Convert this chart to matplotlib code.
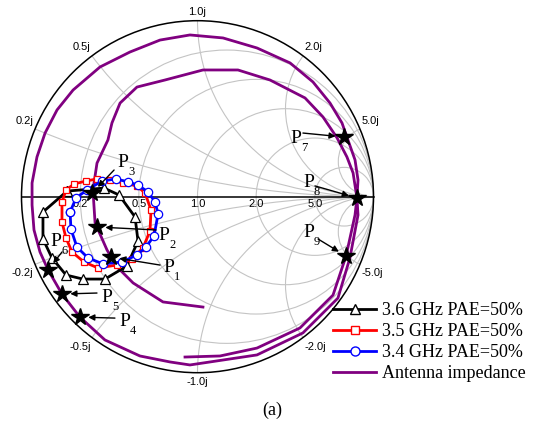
import numpy as np
import matplotlib
matplotlib.use("Agg")
import matplotlib.pyplot as plt
from matplotlib.patches import Circle
from matplotlib.lines import Line2D

# =========================
# DATA (reflection coefficient, real / imag)
# =========================
R_CIRCLES = [0.2, 0.5, 1.0, 2.0, 5.0]
X_ARCS = [0.2, 0.5, 1.0, 2.0, 5.0]
R_LABELS = ["0.2", "0.5", "1.0", "2.0", "5.0"]

# 3.6 GHz PAE=50% contour
g36_re = [-0.741, -0.531, -0.446, -0.355, -0.338, -0.401, -0.526, -0.651,
          -0.747, -0.827, -0.878, -0.878, -0.741]
g36_im = [0.032, 0.049, 0.010, -0.115, -0.252, -0.394, -0.468, -0.468,
          -0.445, -0.348, -0.240, -0.087, 0.032]

# 3.5 GHz PAE=50% contour
g35_re = [-0.770, -0.747, -0.702, -0.634, -0.571, -0.497, -0.423, -0.344,
          -0.298, -0.264, -0.270, -0.310, -0.372, -0.457, -0.565, -0.645,
          -0.713, -0.747, -0.770, -0.770]
g35_im = [-0.030, 0.038, 0.072, 0.089, 0.101, 0.095, 0.078, 0.061,
          0.021, -0.076, -0.195, -0.291, -0.354, -0.388, -0.405, -0.371,
          -0.314, -0.235, -0.144, -0.030]

# 3.4 GHz PAE=50% contour
g34_re = [-0.724, -0.690, -0.628, -0.543, -0.463, -0.395, -0.338, -0.281,
          -0.241, -0.224, -0.247, -0.293, -0.344, -0.429, -0.537, -0.622,
          -0.685, -0.719, -0.724]
g34_im = [-0.087, -0.007, 0.038, 0.089, 0.101, 0.084, 0.066, 0.027,
          -0.030, -0.098, -0.223, -0.286, -0.331, -0.371, -0.382, -0.348,
          -0.286, -0.184, -0.087]

# antenna impedance sweep
ant_re = [-0.071, 0.128, 0.338, 0.582, 0.770, 0.844, 0.895, 0.906,
          0.912, 0.895, 0.855, 0.821, 0.753, 0.656, 0.526, 0.338, 0.145,
          -0.043, -0.213, -0.384, -0.554, -0.707, -0.798, -0.866, -0.912,
          -0.940, -0.940, -0.929, -0.895, -0.849, -0.770, -0.668, -0.526,
          -0.327, -0.156, -0.043, 0.338, 0.599, 0.798, 0.866, 0.912, 0.906,
          0.884, 0.849, 0.793, 0.713, 0.611, 0.412, 0.230, 0.031, -0.185,
          -0.344, -0.440, -0.486, -0.509, -0.571, -0.594, -0.582, -0.514,
          -0.457, -0.366, -0.196, 0.031]
ant_im = [-0.911, -0.905, -0.860, -0.746, -0.559, -0.337, -0.104, -0.007,
          0.095, 0.209, 0.322, 0.419, 0.532, 0.652, 0.760, 0.845, 0.902,
          0.919, 0.890, 0.822, 0.737, 0.606, 0.493, 0.362, 0.226,
          0.078, -0.047, -0.189, -0.314, -0.416, -0.553, -0.684, -0.814,
          -0.905, -0.939, -0.956, -0.899, -0.774, -0.576, -0.348, -0.104, -0.007,
          0.135, 0.226, 0.334, 0.453, 0.561, 0.663, 0.720, 0.720, 0.663,
          0.623, 0.532, 0.419, 0.322, 0.191, 0.038, -0.149, -0.303,
          -0.399, -0.490, -0.598, -0.627]

# marked points P1..P9
p_names = ["1", "2", "3", "4", "5", "6", "7", "8", "9"]
p_re = [-0.491, -0.571, -0.599, -0.668, -0.770, -0.849, 0.832, 0.906, 0.844]
p_im = [-0.343, -0.172, 0.021, -0.684, -0.553, -0.416, 0.339, -0.007, -0.337]
# label / arrow-tail offsets in pixels from each point
p_lab_off = [(52, -15), (61, -13), (25, 26), (39, -9), (39, -8), (2, 24),
             (-54, -6), (-54, 11), (-43, 19)]
p_tail_off = [(49, -8), (59, -3), (22, 23), (35, -1), (35, 1), (14, 18),
              (-41, 4), (-42, 12), (-28, 17)]

# =========================
# FIGURE
# =========================
W, H = 537, 428
CX, CY, RAD = 197.5, 196.7, 176.0
SANS = "Liberation Sans"
SERIF = "Liberation Serif"

fig = plt.figure(figsize=(W / 100, H / 100), dpi=100)
ax = fig.add_axes([0, 0, 1, 1])
ax.set_xlim(-CX / RAD, (W - CX) / RAD)
ax.set_ylim(-(H - CY) / RAD, CY / RAD)
ax.axis("off")

grid_c = "#c4c4c4"
clip = Circle((0, 0), 1, transform=ax.transData)

for r in R_CIRCLES:
    ax.add_patch(Circle((r / (1 + r), 0), 1 / (1 + r), fill=False,
                        ec=grid_c, lw=0.8, zorder=1))
for x in X_ARCS:
    for s in (1, -1):
        c = Circle((1, s / x), 1 / x, fill=False, ec=grid_c, lw=0.8, zorder=1)
        ax.add_patch(c)
        c.set_clip_path(clip)

ax.add_patch(Circle((0, 0), 1, fill=False, ec="black", lw=1.1, zorder=2))
ax.plot([-1, 1], [0, 0], color="black", lw=1.1, zorder=2)

# resistance labels
for r, lab in zip(R_CIRCLES, R_LABELS):
    gx = (r - 1) / (r + 1)
    ax.text(gx, -0.012, lab, ha="center", va="top", fontsize=8,
            family=SANS, zorder=3)

# reactance labels
ax.text(0, 1.02, "1.0j", ha="center", va="bottom", fontsize=8, family=SANS)
ax.text(0, -1.025, "-1.0j", ha="center", va="top", fontsize=8, family=SANS)
for x in [0.2, 0.5, 2.0, 5.0]:
    for s in (1, -1):
        g = (complex(0, s * x) - 1) / (complex(0, s * x) + 1)
        ha = "left" if g.real > 0 else "right"
        va = "bottom" if s > 0 else "top"
        ax.text(g.real * 1.01, g.imag * 1.01 + s * 0.015,
                ("-" if s < 0 else "") + f"{x:.1f}j",
                ha=ha, va=va, fontsize=8, family=SANS)

# curves
ax.plot(ant_re, ant_im, color="#800080", lw=2.0, zorder=4)
ax.plot(g36_re, g36_im, "-^", color="black", lw=2.0, ms=6.5, mfc="white",
        mec="black", mew=0.9, zorder=5)
ax.plot(g35_re, g35_im, "-s", color="red", lw=2.0, ms=5, mfc="white",
        mec="red", mew=0.9, zorder=6)
ax.plot(g34_re, g34_im, "-o", color="blue", lw=2.0, ms=6, mfc="white",
        mec="blue", mew=0.9, zorder=7)

ax.plot(p_re, p_im, "*", color="black", ms=13, zorder=9, ls="none")

for name, gx, gy, lo, to in zip(p_names, p_re, p_im, p_lab_off, p_tail_off):
    ax.annotate("", xy=(gx, gy), xytext=to, textcoords="offset pixels",
                xycoords="data",
                arrowprops=dict(arrowstyle="-|>", color="black", lw=1.0,
                                mutation_scale=9, shrinkA=0, shrinkB=6),
                zorder=8)
    ax.annotate("P", xy=(gx, gy), xytext=lo, textcoords="offset pixels",
                ha="left", va="baseline", fontsize=14, family=SERIF, zorder=10)
    ax.annotate(name, xy=(gx, gy), xytext=(lo[0] + 11, lo[1] + 1),
                textcoords="offset pixels", ha="left", va="top",
                fontsize=9, family=SERIF, zorder=10)

# legend
handles = [
    Line2D([], [], color="black", lw=2, marker="^", ms=7, mfc="white", mec="black"),
    Line2D([], [], color="red", lw=2, marker="s", ms=6, mfc="white", mec="red"),
    Line2D([], [], color="blue", lw=2, marker="o", ms=6.5, mfc="white", mec="blue"),
    Line2D([], [], color="#800080", lw=2),
]
labels = ["3.6 GHz PAE=50%", "3.5 GHz PAE=50%", "3.4 GHz PAE=50%", "Antenna impedance"]
fig.legend(handles, labels, loc="upper left", bbox_to_anchor=(333 / W, 1 - 302 / H),
           frameon=False, borderpad=0, borderaxespad=0, handlelength=2.4,
           handletextpad=0.3, labelspacing=0.22,
           prop={"family": SERIF, "size": 13})

fig.text(272 / W, 1 - 410 / H, "(a)", ha="center", va="center",
         family=SERIF, fontsize=13)

fig.savefig("out.png", dpi=100)
